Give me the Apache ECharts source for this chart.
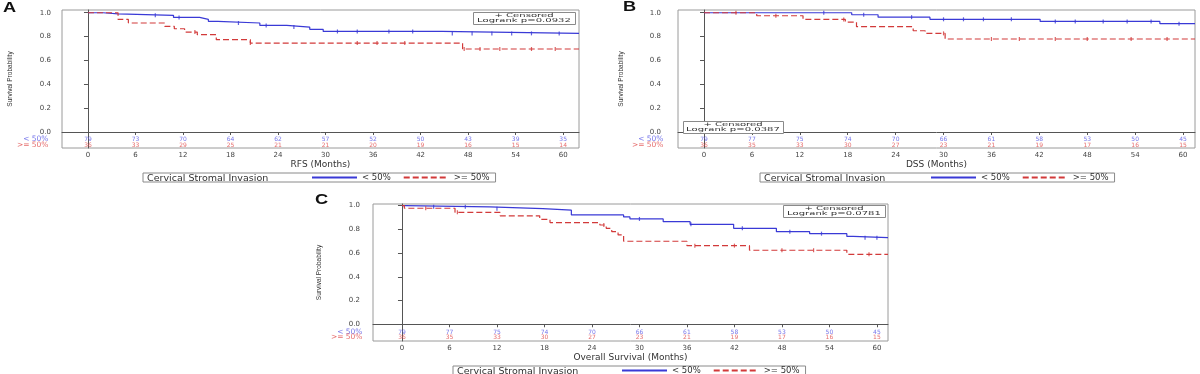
<!DOCTYPE html>
<html><head><meta charset="utf-8">
<script src="https://cdn.jsdelivr.net/npm/echarts@6/dist/echarts.min.js"></script>
<style>html,body{margin:0;padding:0;background:#fff}#c{width:1200px;height:374px}</style>
</head><body><div id="c"></div>
<script>
// ---------- data ----------
const monthTicks = [0, 6, 12, 18, 24, 30, 36, 42, 48, 54, 60];
const probTicks = [0, 0.2, 0.4, 0.6, 0.8, 1.0];
const groupNames = ['< 50%', '>= 50%'];
const legendTitle = 'Cervical Stromal Invasion';
const censoredText = '+ Censored';
const panelLetters = ['A', 'B', 'C'];
const axisNames = ['RFS (Months)', 'DSS (Months)', 'Overall Survival (Months)'];
const logrankTexts = ['Logrank p=0.0932', 'Logrank p=0.0387', 'Logrank p=0.0781'];
const yAxisTitle = 'Survival Probability';

// Panel A: RFS
const rfsLowTime  = [0, 1.9, 3.8, 10.8, 14.1, 15.2, 16.4, 21.7, 25.1, 28.0, 29.7, 44.7, 62.0];
const rfsLowSurv  = [1, 0.99, 0.978, 0.961, 0.945, 0.928, 0.914, 0.894, 0.88, 0.861, 0.843, 0.827, 0.827];
const rfsHighTime = [0, 3.8, 5.1, 9.7, 10.9, 12.2, 13.8, 16.2, 20.5, 47.3, 62.0];
const rfsHighSurv = [1, 0.944, 0.914, 0.886, 0.866, 0.838, 0.816, 0.774, 0.746, 0.696, 0.696];
const rfsLowCensor  = [8.5, 11.5, 19, 22.5, 26, 31.5, 34, 38, 41, 46, 48.5, 51, 53.5, 56, 59.5];
const rfsHighCensor = [13.5, 20.5, 34, 36.5, 40, 47.5, 49.5, 52, 56, 59];
const rfsRiskLow  = [79, 73, 70, 64, 62, 57, 52, 50, 43, 39, 35];
const rfsRiskHigh = [36, 33, 29, 25, 21, 21, 20, 19, 16, 15, 14];

// Panel B: DSS
const dssLowTime  = [0, 18.5, 21.8, 28.3, 42.1, 57.1, 61.5];
const dssLowSurv  = [1, 0.983, 0.963, 0.945, 0.927, 0.908, 0.908];
const dssHighTime = [0, 6.6, 12.4, 17.7, 19.1, 26.2, 27.7, 30.2, 61.5];
const dssHighSurv = [1, 0.975, 0.944, 0.922, 0.883, 0.849, 0.827, 0.78, 0.78];
const dssLowCensor  = [15, 20, 26, 30, 32.5, 35, 38.5, 44, 46.5, 50, 53, 56, 59.5];
const dssHighCensor = [4, 9, 17.5, 30, 36, 39.5, 44, 48, 53.5, 58];
const dssRiskLow  = [79, 77, 75, 74, 70, 66, 61, 58, 53, 50, 45];
const dssRiskHigh = [36, 35, 33, 30, 27, 23, 21, 19, 17, 16, 15];

// Panel C: OS
const osLowTime  = [0, 0.4, 11.1, 17.8, 21.4, 28.0, 28.8, 33.0, 36.4, 41.9, 47.3, 51.5, 56.2, 57.0, 61.4];
const osLowSurv  = [1, 0.99, 0.975, 0.962, 0.922, 0.905, 0.888, 0.865, 0.843, 0.809, 0.781, 0.764, 0.741, 0.73, 0.73];
const osHighTime = [0, 0.3, 6.7, 12.4, 17.4, 18.7, 25.0, 25.8, 26.5, 27.3, 28.0, 36.0, 43.9, 56.2, 61.4];
const osHighSurv = [1, 0.978, 0.944, 0.914, 0.885, 0.857, 0.837, 0.809, 0.781, 0.753, 0.70, 0.663, 0.624, 0.59, 0.59];
const osLowCensor  = [4, 8, 12, 30, 36.5, 43, 49, 53, 58.5, 60];
const osHighCensor = [3, 7, 25.5, 37, 42, 48, 52, 59];
const osRiskLow  = [79, 77, 75, 74, 70, 66, 61, 58, 53, 50, 45];
const osRiskHigh = [36, 35, 33, 30, 27, 23, 21, 19, 17, 16, 15];

// ---------- layout / style ----------
const BLUE = '#3a3ad6', RED = '#d23a3a';
const BLUE_T = '#5454e6', RED_T = '#e04848';
const FONT = 'DejaVu Sans';

const panels = [
  { lowT: rfsLowTime, lowS: rfsLowSurv, highT: rfsHighTime, highS: rfsHighSurv,
    lowC: rfsLowCensor, highC: rfsHighCensor, riskLow: rfsRiskLow, riskHigh: rfsRiskHigh,
    grid: { left: 62, top: 10, width: 517, height: 138 }, xr: [-3.28, 62.0], yr: [-0.134, 1.023],
    rows: [-0.059, -0.109], labelMargin: 11, rowMargin: 13, nameGap: 48,
    legend: { left: 143, top: 173, padLeft: 168 }, letter: [3, 8],
    inset: { x: 473, y: 12, w: 102, h: 12 } },
  { lowT: dssLowTime, lowS: dssLowSurv, highT: dssHighTime, highS: dssHighSurv,
    lowC: dssLowCensor, highC: dssHighCensor, riskLow: dssRiskLow, riskHigh: dssRiskHigh,
    grid: { left: 678, top: 10, width: 517, height: 138 }, xr: [-3.26, 61.5], yr: [-0.134, 1.023],
    rows: [-0.059, -0.109], labelMargin: 17, rowMargin: 14, nameGap: 53,
    legend: { left: 760, top: 173, padLeft: 170 }, letter: [623, 7],
    inset: { x: 683, y: 121, w: 100, h: 12 } },
  { lowT: osLowTime, lowS: osLowSurv, highT: osHighTime, highS: osHighSurv,
    lowC: osLowCensor, highC: osHighCensor, riskLow: osRiskLow, riskHigh: osRiskHigh,
    grid: { left: 373, top: 204, width: 515, height: 137 }, xr: [-3.66, 61.4], yr: [-0.141, 1.014],
    rows: [-0.065, -0.107], labelMargin: 13, rowMargin: 10, nameGap: 50,
    legend: { left: 453, top: 366, padLeft: 168 }, letter: [315, 200],
    inset: { x: 783, y: 205, w: 102, h: 12 } }
];

function stepAt(times, surv, t) {
  let s = surv[0];
  for (let i = 0; i < times.length; i++) if (times[i] <= t) s = surv[i];
  return s;
}
function zip(a, b) { return a.map((v, i) => [v, b[i]]); }

const grids = [], xAxes = [], yAxes = [], series = [], legends = [], graphics = [];

panels.forEach((p, i) => {
  grids.push(Object.assign({ show: true, borderColor: '#9a9a9a', borderWidth: 1, backgroundColor: '#fff' }, p.grid));
  xAxes.push({
    type: 'value', gridIndex: i, min: p.xr[0], max: p.xr[1],
    name: axisNames[i], nameLocation: 'middle', nameGap: 12,
    nameTextStyle: { fontSize: 9, fontFamily: FONT, color: '#333' },
    axisLine: { show: true, lineStyle: { color: '#555', width: 1 } },
    axisTick: { show: true, length: 3, customValues: monthTicks, lineStyle: { color: '#555' } },
    axisLabel: { customValues: monthTicks, margin: 4, fontSize: 7, fontFamily: FONT, color: '#444',
      showMinLabel: true, showMaxLabel: true },
    splitLine: { show: false }
  });
  const rowLow = p.rows[0], rowHigh = p.rows[1];
  yAxes.push({
    type: 'value', gridIndex: i, min: p.yr[0], max: p.yr[1],
    name: yAxisTitle, nameLocation: 'middle', nameGap: p.nameGap, nameRotate: 90,
    nameTextStyle: { fontSize: 6.5, fontFamily: 'Liberation Sans Narrow, Liberation Sans', color: '#333' },
    axisLine: { show: true, lineStyle: { color: '#555', width: 1 } },
    axisTick: { show: true, length: 4, customValues: probTicks, lineStyle: { color: '#555' } },
    axisLabel: {
      customValues: probTicks, margin: p.labelMargin,
      showMinLabel: true, showMaxLabel: true,
      fontSize: 7, fontFamily: FONT, color: '#444',
      formatter: v => Number(v).toFixed(1)
    },
    splitLine: { show: false }
  });
  series.push({
    name: groupNames[0], type: 'line', step: 'end', xAxisIndex: i, yAxisIndex: i,
    data: zip(p.lowT, p.lowS), symbol: 'none', color: BLUE,
    lineStyle: { color: BLUE, width: 1.2 }, z: 3, animation: false
  });
  series.push({
    name: groupNames[1], type: 'line', step: 'end', xAxisIndex: i, yAxisIndex: i,
    data: zip(p.highT, p.highS), symbol: 'none', color: RED,
    lineStyle: { color: RED, width: 1.2, type: [6, 3] }, z: 3, animation: false
  });
  [[p.lowC, p.lowT, p.lowS, BLUE, 'low'], [p.highC, p.highT, p.highS, RED, 'high']].forEach(c => {
    series.push({
      name: 'censored-' + c[4] + '-' + i, type: 'scatter', xAxisIndex: i, yAxisIndex: i,
      data: c[0].map(t => [t, stepAt(c[1], c[2], t)]),
      symbol: 'rect', symbolSize: [1.2, 4], itemStyle: { color: c[3] }, z: 4, silent: true, animation: false
    });
  });
  [[p.riskLow, rowLow, BLUE_T, 'low', groupNames[0]], [p.riskHigh, rowHigh, RED_T, 'high', groupNames[1]]].forEach(r => {
    series.push({
      name: 'risk-' + r[3] + '-' + i, type: 'scatter', xAxisIndex: i, yAxisIndex: i,
      data: monthTicks.map((m, k) => [m, r[1], r[0][k]]),
      symbolSize: 1, itemStyle: { color: 'rgba(0,0,0,0)' }, silent: true, animation: false,
      label: { show: true, position: 'inside', formatter: q => String(q.value[2]),
        fontSize: 6, fontFamily: FONT, color: r[2] }
    });
    // group row label at the left of the plot
    series.push({
      name: 'rowlabel-' + r[3] + '-' + i, type: 'scatter', xAxisIndex: i, yAxisIndex: i,
      data: [[p.xr[0], r[1], r[4]]], clip: false,
      symbolSize: 1, itemStyle: { color: 'rgba(0,0,0,0)' }, silent: true, animation: false,
      label: { show: true, position: 'left', distance: p.rowMargin, formatter: q => q.value[2],
        fontSize: 7.5, fontFamily: FONT, color: r[2] }
    });
  });
  legends.push({
    left: p.legend.left, top: p.legend.top, orient: 'horizontal',
    data: groupNames, selectedMode: false,
    itemWidth: 45, itemHeight: 8, itemGap: 12,
    padding: [0, 6, 0, p.legend.padLeft],
    borderColor: '#8a8a8a', borderWidth: 1, backgroundColor: '#fff',
    itemStyle: { opacity: 0 },
    textStyle: { fontSize: 8.5, fontFamily: FONT, color: '#333' }
  });
  graphics.push({
    type: 'text', x: p.legend.left + 4, y: p.legend.top + 5.5, z: 200,
    style: { text: legendTitle, fontSize: 8.5, fontFamily: FONT, fill: '#333',
      textVerticalAlign: 'middle', verticalAlign: 'middle' },
    scaleX: 1.12
  });
  graphics.push({
    type: 'text', x: p.letter[0], y: p.letter[1], z: 200,
    style: { text: panelLetters[i], fontSize: 14, fontWeight: 'bold', fontFamily: 'Liberation Sans', fill: '#111',
      textVerticalAlign: 'middle', verticalAlign: 'middle' },
    scaleX: 1.3
  });
  const b = p.inset;
  graphics.push({
    type: 'rect', z: 150,
    shape: { x: b.x + 0.5, y: b.y + 0.5, width: b.w, height: b.h },
    style: { fill: '#fff', stroke: '#8a8a8a', lineWidth: 1 }
  });
  graphics.push({
    type: 'text', x: b.x + b.w / 2, y: b.y + 3.6, z: 200, scaleX: 1.55, scaleY: 0.85,
    style: { text: censoredText, fontSize: 6.5, fontFamily: FONT, fill: '#333',
      textAlign: 'center', align: 'center', textVerticalAlign: 'middle', verticalAlign: 'middle' }
  });
  graphics.push({
    type: 'text', x: b.x + b.w / 2, y: b.y + 9, z: 200, scaleX: 1.55, scaleY: 0.85,
    style: { text: logrankTexts[i], fontSize: 6.5, fontFamily: FONT, fill: '#333',
      textAlign: 'center', align: 'center', textVerticalAlign: 'middle', verticalAlign: 'middle' }
  });
});

const chart = echarts.init(document.getElementById('c'), null, { renderer: 'canvas' });
chart.setOption({
  animation: false,
  backgroundColor: '#fff',
  grid: grids, xAxis: xAxes, yAxis: yAxes, series: series,
  legend: legends, graphic: { elements: graphics },
  tooltip: { show: false }
});
</script></body></html>
